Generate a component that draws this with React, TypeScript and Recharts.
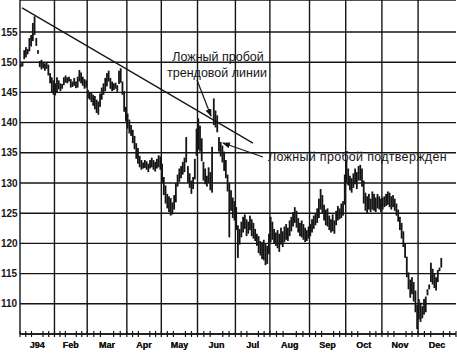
import React from 'react';
import { ComposedChart, Bar, XAxis, YAxis, CartesianGrid, ReferenceLine } from 'recharts';

const monthLabels = ['J94', 'Feb', 'Mar', 'Apr', 'May', 'Jun', 'Jul', 'Aug', 'Sep', 'Oct', 'Nov', 'Dec'];
const monthDays = [20, 19, 23, 20, 21, 22, 20, 23, 21, 21, 21, 22];
const yTicks = [110, 115, 120, 125, 130, 135, 140, 145, 150, 155];

const janHigh = [149.8, 150, 152, 152.5, 152.2, 154, 154.5, 156.5, 157.6, 154, 152, 150.2, 150.4, 150, 149.8, 150, 149.6, 148.2, 147.5, 147];
const janLow = [149.2, 149.3, 150.5, 150.8, 151.3, 151.8, 152.6, 153.5, 154.5, 152.7, 151.4, 149.2, 148.8, 149, 148.6, 148.9, 147.8, 146.5, 145, 144.6];
const febHigh = [146.5, 147.5, 147, 146.5, 146.4, 147.5, 147.8, 147.5, 147.6, 147.2, 146.8, 147.4, 146.8, 147.6, 148.7, 148.3, 147.6, 147.2, 147];
const febLow = [144.5, 145, 145.5, 145.2, 145.6, 146.2, 146.6, 146.5, 146.8, 145.8, 145.9, 146.1, 145.7, 145.8, 146.8, 146.5, 146.1, 145.6, 145.8];
const marHigh = [145.4, 145, 145, 144.6, 144.4, 143.8, 143.5, 144.8, 145.8, 146.5, 147.4, 148.2, 148.6, 147.4, 146.8, 146.5, 146.6, 146.2, 148.6, 149, 146.8, 145.2, 142.6];
const marLow = [144, 143.8, 143.4, 142.8, 142.2, 141.6, 141.3, 142.6, 143.8, 144.6, 145.2, 146, 146.8, 145.6, 145.2, 145.4, 145.6, 145.1, 146.4, 146.6, 144.6, 141.8, 140.2];
const aprHigh = [141.5, 140.5, 139.6, 138.8, 137.8, 136.6, 135.8, 134.5, 133.8, 133.4, 133.8, 133.6, 133.2, 133.8, 134.2, 133.8, 133.5, 134, 134.6, 134.4];
const aprLow = [139, 138.2, 137.8, 136.6, 135.6, 134, 133.2, 132.6, 132.2, 132.4, 132.5, 132.2, 131.8, 132.4, 132.6, 132.2, 131.9, 132.4, 132.6, 132.2];
const mayHigh = [133.2, 131, 129.6, 128.2, 127.8, 127.5, 126.8, 128, 130, 131.4, 132.4, 132.8, 133.5, 134.2, 137.6, 132.8, 131.6, 130.4, 131, 134, 139];
const mayLow = [130, 128, 126.6, 125.8, 125.2, 124.6, 124.8, 125.6, 126.8, 129.4, 130.2, 130.8, 131.4, 131.8, 133.4, 130, 129.2, 128.2, 129, 130.6, 134.5];
const junHigh = [140.7, 139.5, 137.4, 133.5, 132.4, 131.2, 132.6, 131.8, 136, 144, 142, 141.2, 137.6, 136.8, 136.2, 135.2, 133.8, 131.4, 130, 128.8, 127.6, 127];
const junLow = [135.5, 135.2, 133.6, 130.4, 129.8, 129.4, 130, 128.8, 128.4, 139.6, 139.2, 138.4, 135.2, 134.4, 133.4, 132, 130.8, 128.6, 121, 125.4, 124.2, 123.8];
const julHigh = [126, 123, 122.4, 123.6, 124.4, 124.8, 124, 123.6, 124.6, 124, 123.4, 122.4, 121.6, 121.2, 120.4, 120.2, 120.6, 120, 119.6, 121.6];
const julLow = [122.2, 117.6, 119.8, 121, 121.8, 122.4, 121.2, 121.6, 122.2, 121.2, 120.8, 120.4, 119.6, 118.4, 118, 117.4, 117.2, 116.4, 116.6, 118.2];
const augHigh = [124.4, 123.6, 122.4, 121.8, 122.2, 121.6, 122.6, 122, 122.8, 123.2, 122.6, 123.8, 124.4, 125.2, 126, 125.4, 124.2, 123.4, 123.8, 123.2, 122.6, 122.2, 122.8];
const augLow = [120.2, 120.6, 120, 119.6, 119.2, 118.6, 119.8, 119.4, 120.2, 120.6, 120.4, 121.2, 122, 122.8, 123.4, 122.6, 121.8, 121.2, 121, 120.6, 120.2, 120.4, 120.8];
const sepHigh = [123.2, 124, 124.6, 125, 125.8, 127.4, 129, 128, 126.4, 125.6, 125.8, 124.6, 124, 124.8, 123.8, 125.4, 126.2, 125.8, 126.6, 127, 131.4];
const sepLow = [121.2, 121.8, 122.4, 123, 123.4, 124.2, 125.6, 125, 123.8, 123, 122.8, 122.2, 121.8, 122, 121.6, 123, 123.8, 124, 124.2, 124.6, 126.4];
const octHigh = [133.8, 132.4, 131.2, 130.8, 131.6, 132.4, 131.8, 132.8, 133, 132.4, 130.4, 128.4, 127.8, 128.2, 127.4, 128.6, 128.2, 127.6, 128.2, 127.8, 127.4];
const octLow = [130, 129.6, 128.8, 128.4, 129.2, 129.8, 129, 130.4, 130.4, 129.4, 126.6, 125.4, 125, 125.6, 125.2, 125.6, 125.4, 125.2, 125.8, 125.6, 125.2];
const novHigh = [127.6, 127.8, 128.2, 128.6, 128.4, 127.8, 128, 127.4, 126.6, 125.6, 124.4, 123.4, 122, 120, 117.8, 115.2, 114, 114.4, 113.6, 112.2, 109.8];
const novLow = [125.6, 126, 126.2, 126.4, 126, 125.6, 126, 125.4, 124.6, 123.6, 122.2, 120.8, 119.4, 117.6, 114.4, 112.4, 111, 111.6, 110.4, 108.6, 105.8];
const decHigh = [110.8, 110.2, 109.6, 110.8, 111.2, 112.4, 113.2, 116.8, 115.8, 115, 114.4, 115.6, 116, 117.6];
const decLow = [107.4, 107, 107.6, 108.2, 108.6, 111.4, 112.4, 113.6, 113.2, 112.6, 112.2, 113.6, 115.4, 116];

const highs = [...janHigh, ...febHigh, ...marHigh, ...aprHigh, ...mayHigh, ...junHigh, ...julHigh, ...augHigh, ...sepHigh, ...octHigh, ...novHigh, ...decHigh];
const lows = [...janLow, ...febLow, ...marLow, ...aprLow, ...mayLow, ...junLow, ...julLow, ...augLow, ...sepLow, ...octLow, ...novLow, ...decLow];

const data = highs.map((h, i) => ({ i: i + 0.5, range: [lows[i], h] }));

const boundaries: number[] = [0];
monthDays.forEach((d) => boundaries.push(boundaries[boundaries.length - 1] + d));
const totalDays = boundaries[boundaries.length - 1];
const monthCenters = monthDays.map((d, k) => boundaries[k] + d / 2);
const minorTicks: number[] = [];
monthDays.forEach((d, k) => {
  for (let j = 0; j < 6; j++) minorTicks.push(boundaries[k] + (d * j) / 6);
});
minorTicks.push(totalDays);
const xTicks = [...minorTicks, ...monthCenters];

const trendStart = { x: 1.2, y: 159 };
const trendEnd = { x: 135.2, y: 136.6 };

const INK = '#151515';
const FONT = '"Liberation Sans", Arial, sans-serif';

const XTick = (props: any) => {
  const { x, y, payload } = props;
  const mi = monthCenters.indexOf(payload.value);
  if (mi >= 0) {
    return (
      <text x={x} y={y + 14} textAnchor="middle" fontFamily={FONT} fontSize={9} fontWeight="bold" fill={INK}>
        {monthLabels[mi]}
      </text>
    );
  }
  return <line x1={x} x2={x} y1={y - 3} y2={y + 3} stroke={INK} strokeWidth={1.2} />;
};

const YTick = (props: any) => {
  const { y, payload } = props;
  return (
    <text x={1} y={y + 3.5} textAnchor="start" fontFamily={FONT} fontSize={10} fontWeight="bold" fill={INK}>
      {payload.value}
    </text>
  );
};

const BarShape = (props: any) => {
  const { x, y, width, height } = props;
  const cx = x + width / 2;
  return <rect x={cx - 0.9} y={y} width={1.8} height={Math.max(height, 1.2)} fill={INK} />;
};

export default function App() {
  return (
    <div style={{ position: 'absolute', left: 0, top: 0, width: 457, height: 356, background: '#fff' }}>
      <ComposedChart width={457} height={356} data={data} margin={{ top: 0, right: 1, bottom: 0, left: 0 }}>
        <CartesianGrid vertical={false} stroke={INK} strokeWidth={1.4} />
        <XAxis
          dataKey="i"
          type="number"
          domain={[0, totalDays]}
          ticks={xTicks}
          interval={0}
          tick={<XTick />}
          tickLine={false}
          tickSize={0}
          tickMargin={0}
          height={22}
          axisLine={{ stroke: INK, strokeWidth: 1.4 }}
          allowDataOverflow
        />
        <YAxis
          type="number"
          domain={[105, 160.3]}
          ticks={yTicks}
          tick={<YTick />}
          tickLine={false}
          width={20}
          axisLine={{ stroke: INK, strokeWidth: 1.4 }}
          allowDataOverflow
        />
        {boundaries.slice(1, -1).map((b) => (
          <ReferenceLine key={b} x={b} stroke={INK} strokeWidth={1.4} />
        ))}
        <Bar dataKey="range" fill={INK} barSize={2} shape={<BarShape />} isAnimationActive={false} />
        <ReferenceLine segment={[trendStart, trendEnd]} stroke={INK} strokeWidth={1.3} />
      </ComposedChart>
      <svg width={457} height={356} style={{ position: 'absolute', left: 0, top: 0, pointerEvents: 'none' }}>
        <defs>
          <marker id="ah" markerWidth="8" markerHeight="6" refX="7" refY="3" orient="auto" markerUnits="userSpaceOnUse">
            <path d="M0,0 L8,3 L0,6 Z" fill={INK} />
          </marker>
        </defs>
        <text x={218} y={61} textAnchor="middle" fontFamily={FONT} fontSize={12.5} fill={INK}>Ложный пробой</text>
        <text x={217} y={77} textAnchor="middle" fontFamily={FONT} fontSize={12.5} fill={INK}>трендовой линии</text>
        <line x1={197} y1={80} x2={211} y2={116} stroke={INK} strokeWidth={1.2} markerEnd="url(#ah)" />
        <text x={268} y={161} textAnchor="start" fontFamily={FONT} fontSize={12.5} letterSpacing={0.3} fill={INK}>Ложный пробой подтвержден</text>
        <line x1={263} y1={157} x2={223} y2={143} stroke={INK} strokeWidth={1.2} markerEnd="url(#ah)" />
      </svg>
    </div>
  );
}
